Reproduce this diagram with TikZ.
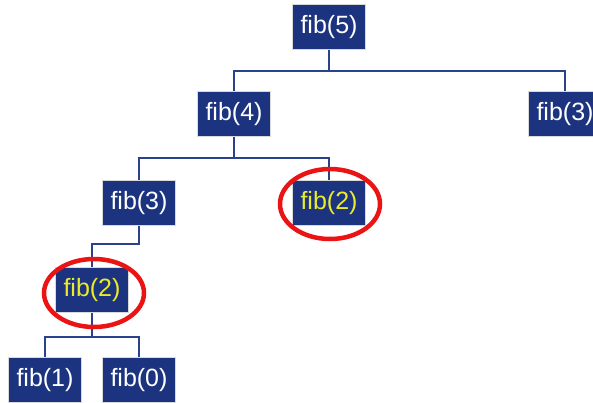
\documentclass[tikz,border=0pt]{standalone}
\usepackage{fontspec}
\setmainfont{Liberation Sans}
\usetikzlibrary{shapes.geometric}
\definecolor{navy}{RGB}{28,52,128}
\definecolor{linkc}{RGB}{40,66,140}
\definecolor{fibred}{RGB}{235,20,20}
\definecolor{fibyellow}{RGB}{235,235,40}
\begin{document}
\begin{tikzpicture}[x=1pt,y=-1pt,
  call/.style={fill=navy, draw=black!15, line width=1pt, minimum width=73pt, minimum height=45pt,
    inner sep=0pt, text=white, font=\fontsize{25}{27}\selectfont},
  repeated/.style={call, text=fibyellow},
  link/.style={draw=linkc, line width=1.5pt},
  ring/.style={draw=fibred, line width=4.5pt}]
\useasboundingbox (0,0) rectangle (593,402);
\begin{scope}
\clip (0,0) rectangle (593,402);
\node[call] (f5) at (329,27) {fib(5)};
\node[call] (f4) at (234,114) {fib(4)};
\node[call] (f3r) at (565,114) {fib(3)};
\node[call] (f3) at (139,203) {fib(3)};
\node[repeated] (f2r) at (329,203) {fib(2)};
\node[repeated] (f2) at (92,290) {fib(2)};
\node[call] (f1) at (45,380) {fib(1)};
\node[call] (f0) at (139,380) {fib(0)};

\draw[link] (f5.south) -- ++(0,21) -| (f4.north);
\draw[link] (f5.south) -- ++(0,21) -| (f3r.north);
\draw[link] (f4.south) -- ++(0,21) -| (f3.north);
\draw[link] (f4.south) -- ++(0,21) -| (f2r.north);
\draw[link] (f3.south) -- ++(0,18) -| (f2.north);
\draw[link] (f2.south) -- ++(0,24) -| (f1.north);
\draw[link] (f2.south) -- ++(0,24) -| (f0.north);

\node[ring, ellipse, minimum width=100pt, minimum height=70pt] (r1) at (330,204) {};
\node[ring, ellipse, minimum width=100pt, minimum height=68pt] (r2) at (94,293) {};
\end{scope}
\end{tikzpicture}
\end{document}
